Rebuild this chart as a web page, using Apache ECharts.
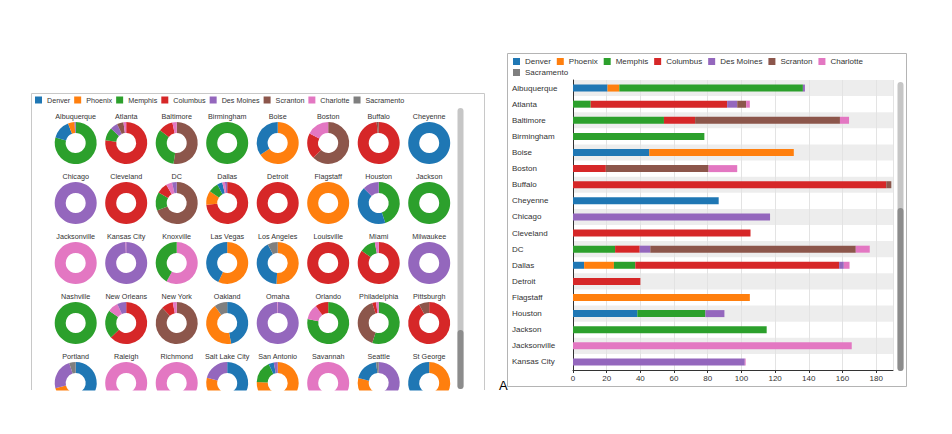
<!DOCTYPE html>
<html><head><meta charset="utf-8">
<script src="https://cdn.jsdelivr.net/npm/echarts@6/dist/echarts.min.js"></script>
<style>html,body{margin:0;padding:0;background:#fff}#c{width:952px;height:434px}</style>
</head><body><div id="c"></div>
<script>
const cities = ['Albuquerque','Atlanta','Baltimore','Birmingham','Boise','Boston','Buffalo','Cheyenne',
  'Chicago','Cleveland','DC','Dallas','Detroit','Flagstaff','Houston','Jackson',
  'Jacksonville','Kansas City','Knoxville','Las Vegas','Los Angeles','Louisville','Miami','Milwaukee',
  'Nashville','New Orleans','New York','Oakland','Omaha','Orlando','Philadelphia','Pittsburgh',
  'Portland','Raleigh','Richmond','Salt Lake City','San Antonio','Savannah','Seattle','St George'];
const seriesNames = ['Denver','Phoenix','Memphis','Columbus','Des Moines','Scranton','Charlotte','Sacramento'];
const Denver    = [20.5,0,0,0,45.3,0,0,86.5,0,0,0,6.6,0,0,38.2,0,0,0, 0,43,42,0,0,0,0,0,0,47,0,0,0,0,45,0,0,52,4,0,19,42];
const Phoenix   = [7,0,0,0,85.8,0,0,0,0,0,0,17.7,0,105,0,0,0,0, 0,57,52,0,0,0,0,0,0,43,0,0,0,0,26,0,0,27,75,0,30,58];
const Memphis   = [109,10.5,54,78,0,0,0,0,0,0,25,12.7,0,0,40.4,115,0,0, 42,0,0,0,12,0,95,22,0,0,0,78,55,0,0,0,0,0,17,0,0,0];
const Columbus  = [0,81,18.5,0,0,19.5,186,0,0,105.4,14.6,121,40,0,0,0,0,0, 0,0,0,90,85,0,0,63,9,0,0,10,3,92,0,0,0,0,0,0,0,0];
const DesMoines = [1.2,6,0,0,0,0,0,0,117,0,6.3,2.8,0,0,11.3,0,0,102, 0,0,0,0,0,80,0,7,0,0,100,0,0,0,24,0,0,21,3,0,48,0];
const Scranton  = [0,5.3,86,0,0,61,3,0,0,0,122,0,0,0,0,0,0,0, 0,0,0,0,0,0,0,0,88,0,0,0,40,8,0,0,0,0,0,0,0,0];
const Charlotte = [0,2.2,5.4,0,0,17,0,0,0,0,8.3,3.4,0,0,0,0,165.5,0.5, 58,0,0,0,3,0,0,8,3,0,0.5,12,2,0,0,70,60,0,0,50,0,0];
const Sacramento= [0,0,0,0,0,0,0,0,0,0,0,0,0,0,0,0,0,0, 0,0,8,0,0,0,0,0,0,10,0,0,0,0,5,0,0,0,0,0,2,0];
const axisMin = 0, axisMax = 190, axisStep = 20;
const visibleBarRows = 18;

const seriesValues = [Denver, Phoenix, Memphis, Columbus, DesMoines, Scranton, Charlotte, Sacramento];
const colors = ['#1f77b4','#ff7f0e','#2ca02c','#d62728','#9467bd','#8c564b','#e377c2','#7f7f7f'];
const FONT = 'Liberation Sans, Arial, sans-serif';

const chart = echarts.init(document.getElementById('c'), null, {renderer: 'svg'});

const series = [];
const graphics = [];
// stacked bars
seriesNames.forEach((n, k) => {
  series.push({
    type: 'bar', name: n, stack: 'total', barWidth: 7,
    xAxisIndex: 0, yAxisIndex: 0,
    itemStyle: {color: colors[k]},
    data: seriesValues[k].slice(0, visibleBarRows),
    silent: true
  });
});
// donuts
const cols = 8;
cities.forEach((city, i) => {
  const col = i % cols, row = Math.floor(i / cols);
  const cx = 75.7 + 50.5 * col, cy = 143 + 60 * row;
  const items = seriesNames.map((n, k) => ({name: n, value: seriesValues[k][i], itemStyle: {color: colors[k]}, _k: k}))
    .filter(d => d.value > 0)
    .sort((a, b) => (b.value - a.value) || (a._k - b._k))
    .map(d => ({name: d.name, value: d.value, itemStyle: d.itemStyle}));
  series.push({
    type: 'pie', name: city, radius: [10, 21], center: [cx, cy],
    startAngle: 90, clockwise: true, silent: true,
    label: {show: false}, labelLine: {show: false},
    emphasis: {disabled: true},
    data: items
  });
  graphics.push({type: 'text', x: cx, y: cy - 26.3, z: 10,
    style: {text: city, textAlign: 'center', textVerticalAlign: 'middle', fontSize: 7.2, fontFamily: FONT, fill: '#333'}});
});

graphics.push(
  {type: 'polyline', z: 1, shape: {points: [[31.5,390],[31.5,93.5],[484.5,93.5],[484.5,390]]}, style: {stroke: '#c8c8c8', lineWidth: 1, fill: null}},
  {type: 'rect', z: 1, shape: {x: 457.5, y: 108, width: 6, height: 281, r: 3}, style: {fill: '#c6c6c6'}},
  {type: 'rect', z: 1, shape: {x: 457.5, y: 330, width: 6, height: 59, r: 3}, style: {fill: '#8c8c8c'}},
  {type: 'rect', z: 1, shape: {x: 507.5, y: 53.5, width: 399, height: 333}, style: {stroke: '#b4b4b4', lineWidth: 1, fill: null}},
  {type: 'rect', z: 1, shape: {x: 897.5, y: 82, width: 6, height: 289, r: 3}, style: {fill: '#c6c6c6'}},
  {type: 'rect', z: 1, shape: {x: 897.5, y: 208, width: 6, height: 163, r: 3}, style: {fill: '#8c8c8c'}},
  {type: 'rect', z: 100, shape: {x: 0, y: 390.5, width: 495, height: 44}, style: {fill: '#fff'}},
  {type: 'text', z: 101, x: 499, y: 385, style: {text: 'A', fontSize: 13, fontFamily: FONT, fill: '#000', textVerticalAlign: 'middle'}}
);

const legendBase = {orient: 'horizontal', icon: 'rect', itemWidth: 7, itemHeight: 7, padding: 0, selectedMode: false};

chart.setOption({
  animation: false,
  textStyle: {fontFamily: FONT},
  legend: [
    Object.assign({}, legendBase, {left: 35, top: 96.5, itemGap: 4, data: seriesNames,
      textStyle: {fontSize: 7.2, color: '#333', fontFamily: FONT}}),
    Object.assign({}, legendBase, {left: 513, top: 57.5, itemGap: 6, data: seriesNames.slice(0, 7),
      textStyle: {fontSize: 8, color: '#333', fontFamily: FONT}}),
    Object.assign({}, legendBase, {left: 513, top: 68.5, itemGap: 6, data: seriesNames.slice(7),
      textStyle: {fontSize: 8, color: '#333', fontFamily: FONT}})
  ],
  grid: [{left: 573, top: 80, width: 320, height: 290, containLabel: false, outerBoundsMode: 'none'}],
  xAxis: [{
    type: 'value', min: axisMin, max: axisMax, interval: axisStep,
    axisLine: {show: true, lineStyle: {color: '#333'}},
    axisTick: {show: true, length: 3, lineStyle: {color: '#333'}},
    axisLabel: {fontSize: 8, color: '#333', margin: 4, showMaxLabel: false, fontFamily: FONT},
    splitLine: {show: true, lineStyle: {color: '#e3e3e3'}}
  }],
  yAxis: [{
    type: 'category', inverse: true, data: cities.slice(0, visibleBarRows),
    axisLine: {show: true, lineStyle: {color: '#333'}},
    axisTick: {show: false},
    axisLabel: {align: 'left', margin: 61, fontSize: 8, color: '#333', fontFamily: FONT},
    splitLine: {show: false},
    splitArea: {show: true, areaStyle: {color: ['rgba(0,0,0,0.07)', 'rgba(0,0,0,0)']}}
  }],
  series: series,
  graphic: {elements: graphics}
});
</script>
</body></html>
